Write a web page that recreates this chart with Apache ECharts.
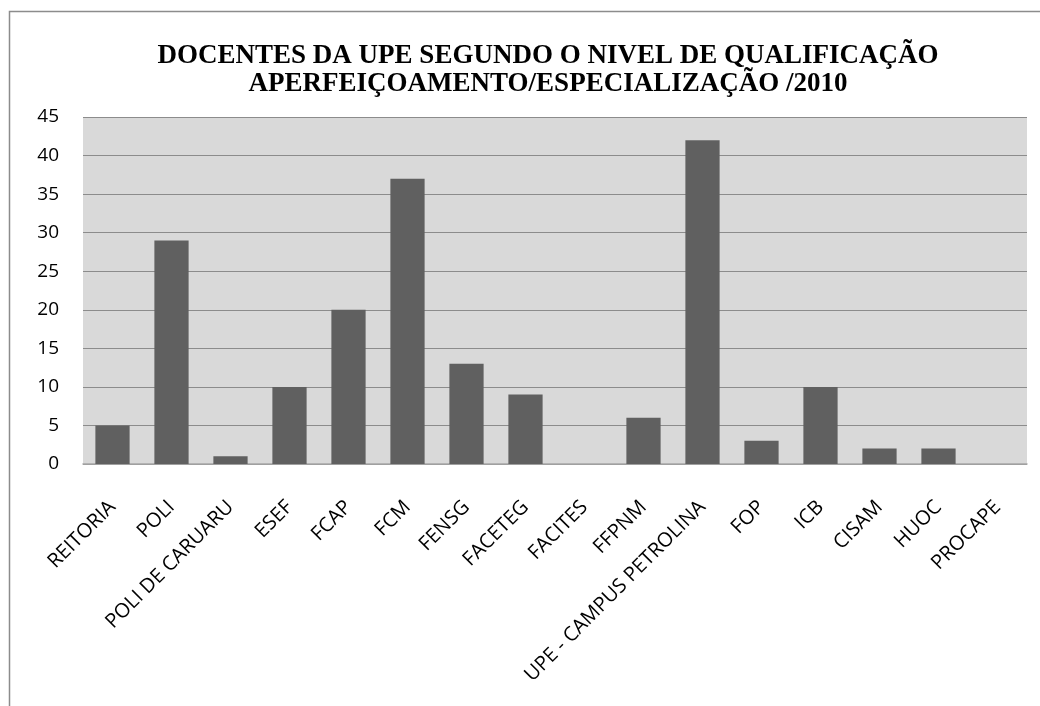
<!DOCTYPE html>
<html><head><meta charset="utf-8">
<script src="https://cdn.jsdelivr.net/npm/echarts@6/dist/echarts.min.js"></script>
<style>html,body{margin:0;padding:0;background:#fff}#c{width:1040px;height:706px}</style>
</head><body><div id="c"></div>
<script>
const categories = ["REITORIA","POLI","POLI DE CARUARU","ESEF","FCAP","FCM","FENSG","FACETEG","FACITES","FFPNM","UPE - CAMPUS PETROLINA","FOP","ICB","CISAM","HUOC","PROCAPE"];
const values = [5,29,1,10,20,37,13,9,0,6,42,3,10,2,2,0];
const titleLines = ["DOCENTES DA UPE SEGUNDO O NIVEL DE QUALIFICAÇÃO","APERFEIÇOAMENTO/ESPECIALIZAÇÃO /2010"];
const chart = echarts.init(document.getElementById('c'));
chart.setOption({
  animation:false,
  backgroundColor:'#fff',
  graphic:[{type:'rect',shape:{x:9.5,y:11.5,width:1040,height:720},style:{fill:'none',stroke:'#8c8c8c',lineWidth:1.5},z:-1}],
  title:{text:titleLines.join('\n'),left:543,top:37,textAlign:'center',
    textStyle:{fontFamily:'Liberation Serif',fontWeight:'bold',fontSize:27,color:'#000',lineHeight:28}},
  grid:{left:83,right:13,top:117,bottom:242,show:true,backgroundColor:'#d9d9d9',borderWidth:0},
  xAxis:{type:'category',data:categories,
    axisLine:{lineStyle:{color:'#a6a6a6',width:1.5}},axisTick:{show:false},
    axisLabel:{interval:0,rotate:45,margin:40,fontFamily:'Open Sans',fontSize:20,color:'#000'}},
  yAxis:{type:'value',min:0,max:45,interval:5,
    axisLine:{show:false},axisTick:{show:false},
    splitLine:{lineStyle:{color:'#8c8c8c',width:1}},
    axisLabel:{fontFamily:'Open Sans',fontSize:19,color:'#000',margin:24}},
  series:[{type:'bar',data:values,barCategoryGap:'42%',itemStyle:{color:'#606060'}}]
});
</script></body></html>
